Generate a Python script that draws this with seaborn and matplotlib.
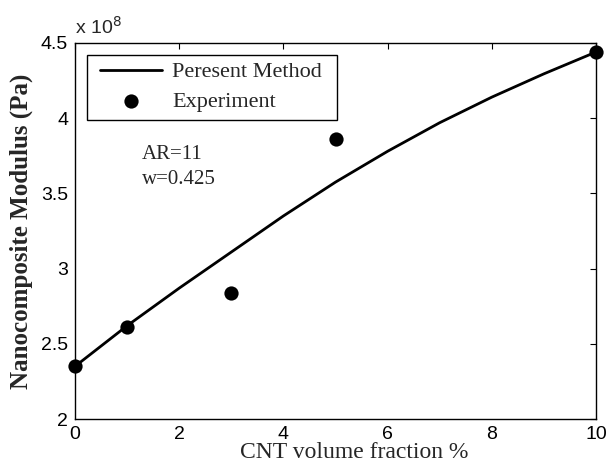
import matplotlib
matplotlib.use("Agg")
import matplotlib.pyplot as plt
from matplotlib.patches import Rectangle
import seaborn as sns
import pandas as pd

# Data (values in Pa / 1e8)
model_x = [0, 1, 2, 3, 4, 5, 6, 7, 8, 9, 10]
model_y = [2.35, 2.62, 2.87, 3.11, 3.35, 3.575, 3.78, 3.97, 4.14, 4.295, 4.44]
exp_x = [0, 1, 3, 5, 10]
exp_y = [2.35, 2.61, 2.84, 3.86, 4.44]
x_ticks = [0, 2, 4, 6, 8, 10]
y_ticks = [2, 2.5, 3, 3.5, 4, 4.5]
y_tick_labels = ["2", "2.5", "3", "3.5", "4", "4.5"]

sns.set_theme(style="white")
plt.rcParams['font.family'] = ['Liberation Sans', 'DejaVu Sans']

W, H = 613, 470
fig = plt.figure(figsize=(W / 100, H / 100), dpi=100)
L, R, T, B = 75, 596, 43, 419
ax = fig.add_axes([L / W, 1 - B / H, (R - L) / W, (B - T) / H])

model_df = pd.DataFrame({"x": model_x, "y": model_y})
exp_df = pd.DataFrame({"x": exp_x, "y": exp_y})

sns.lineplot(data=model_df, x="x", y="y", ax=ax, color="black", linewidth=2.0,
             label="Peresent Method", sort=True)
sns.scatterplot(data=exp_df, x="x", y="y", ax=ax, color="black", s=105,
                linewidth=0, label="Experiment", zorder=5, clip_on=False)

ax.set_xlim(0, 10)
ax.set_ylim(2, 4.5)
ax.set_xticks(x_ticks)
ax.set_yticks(y_ticks)
ax.set_yticklabels(y_tick_labels)
ax.tick_params(direction="in", length=4, width=0.8, top=True, right=True,
               labelsize=14, colors="black", pad=5)
for s in ax.spines.values():
    s.set_color("black")
    s.set_linewidth(1.0)

serif = ['Liberation Serif', 'DejaVu Serif']
ax.set_xlabel("CNT volume fraction %", family=serif, fontsize=17)
ax.xaxis.set_label_coords(0.535, -0.062)
ax.set_ylabel("Nanocomposite Modulus (Pa)", family=serif, fontsize=18,
              fontweight="bold")
ax.yaxis.set_label_coords(-0.080, 0.5)

ax.text(0.0, 1.015, r"x 10$^{8}$", transform=ax.transAxes, fontsize=14,
        ha="left", va="bottom")
ax.text(1.28, 3.727, "AR=11", family=serif, fontsize=15, va="baseline")
ax.text(1.28, 3.56, "w=0.425", family=serif, fontsize=15, va="baseline")

# legend frame drawn separately for independent horizontal / vertical padding
ax.add_patch(Rectangle((0.0225, 0.795), 0.4795, 0.173, transform=ax.transAxes,
                       facecolor="white", edgecolor="black", linewidth=1.0,
                       zorder=6))
leg = ax.legend(loc="upper left", bbox_to_anchor=(0.048, 0.950), frameon=False,
                prop={'family': serif, 'size': 16},
                handlelength=2.8, handletextpad=0.45, borderpad=0,
                labelspacing=0.39, borderaxespad=0)
leg.set_zorder(7)

fig.savefig("out.png", dpi=100)
